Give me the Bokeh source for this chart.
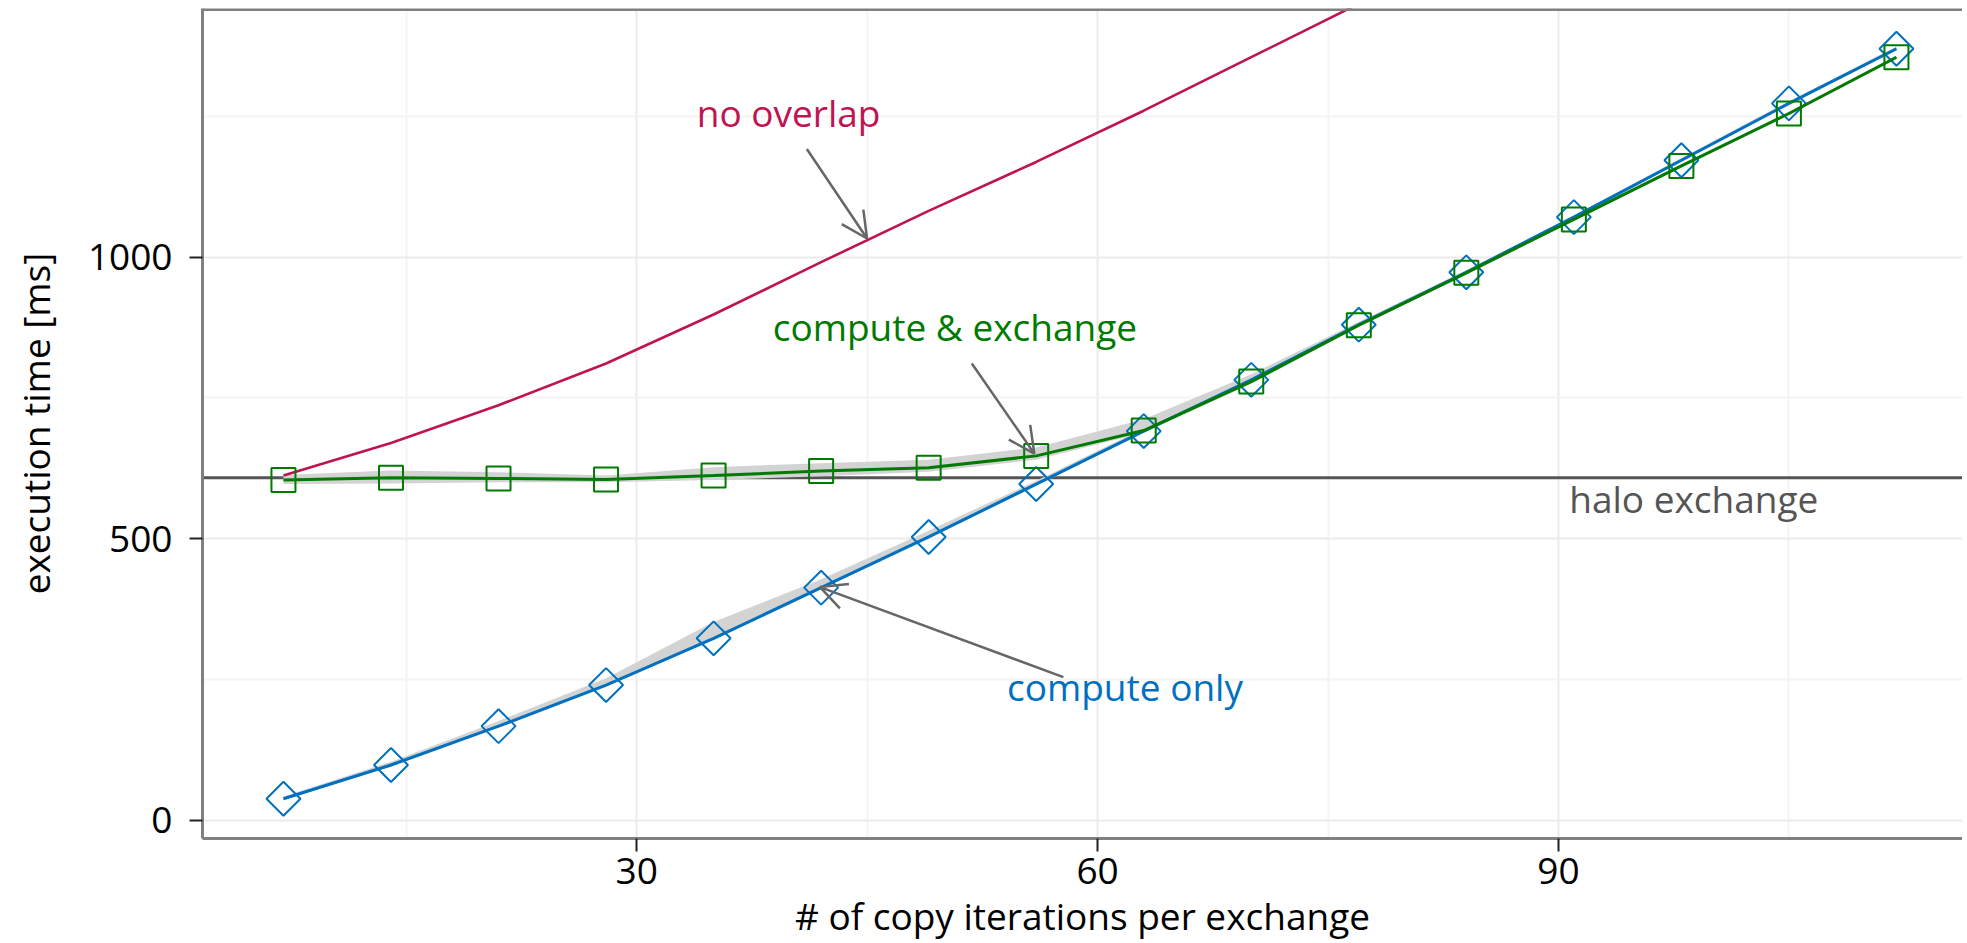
import math
from bokeh.plotting import figure
from bokeh.models import Range1d, FixedTicker, Span, Arrow, OpenHead
from bokeh.core.properties import value
from bokeh.embed import file_html
from bokeh.resources import INLINE

# ---------------- data ----------------
iterations = [7, 14, 21, 28, 35, 42, 49, 56, 63, 70, 77, 84, 91, 98, 105, 112]
compute_only = [38, 98, 167, 240, 323, 413, 503, 597, 691, 782, 880, 973, 1071, 1172, 1273, 1370]
compute_only_lo = [36, 95, 164, 237, 320, 410, 500, 594, 688, 779, 877, 970, 1068, 1169, 1270, 1367]
compute_only_hi = [42, 104, 176, 252, 352, 428, 514, 603, 696, 786, 884, 977, 1074, 1176, 1277, 1374]
compute_exchange = [604, 608, 607, 605, 612, 620, 626, 647, 692, 779, 879, 972, 1067, 1162, 1255, 1355]
compute_exchange_lo = [597, 598, 600, 600, 604, 611, 619, 640, 688, 775, 876, 969, 1064, 1159, 1252, 1352]
compute_exchange_hi = [613, 621, 618, 612, 627, 634, 640, 662, 712, 792, 885, 976, 1070, 1165, 1258, 1358]
no_overlap = [612, 670, 737, 811, 898, 991, 1082, 1169, 1260, 1355, 1450, 1548, 1648, 1750, 1850, 1950]
halo_exchange = 608

x_ticks = [30, 60, 90]
x_minor = [15, 45, 75, 105]
y_ticks = [0, 500, 1000]
y_minor = [250, 750, 1250]

FONT = "Open Sans"
FS = "37px"
C_BLUE = "#0070C0"
C_GREEN = "#007A00"
C_RED = "#BF1450"
C_GRAY = "#555555"
C_ARROW = "#666666"
C_AXIS = "#808080"

p = figure(width=1962, height=943, output_backend="svg", toolbar_location=None,
           x_range=Range1d(1.73, 116.3), y_range=Range1d(-32.5, 1441.5),
           min_border_left=202, min_border_right=0, min_border_top=8, min_border_bottom=105)
p.background_fill_color = "white"
p.border_fill_color = "white"
p.outline_line_color = None

# grid
p.xaxis.ticker = FixedTicker(ticks=x_ticks, minor_ticks=x_minor)
p.yaxis.ticker = FixedTicker(ticks=y_ticks, minor_ticks=y_minor)
for g in (p.xgrid, p.ygrid):
    g.grid_line_color = "#EBEBEB"
    g.grid_line_width = 2
    g.minor_grid_line_color = "#F4F4F4"
    g.minor_grid_line_width = 2

# axes
for ax in (p.xaxis, p.yaxis):
    ax.axis_line_color = C_AXIS
    ax.axis_line_width = 3
    ax.major_tick_out = 13
    ax.major_tick_in = 0
    ax.major_tick_line_color = "#222222"
    ax.major_tick_line_width = 2
    ax.minor_tick_out = 0
    ax.minor_tick_in = 0
    ax.major_label_text_font = FONT
    ax.major_label_text_font_size = FS
    ax.major_label_text_color = "black"
    ax.axis_label_text_font = FONT
    ax.axis_label_text_font_size = FS
    ax.axis_label_text_font_style = "normal"
    ax.axis_label_text_color = "black"
p.xaxis.major_label_standoff = 6
p.xaxis.axis_label = "# of copy iterations per exchange"
p.xaxis.axis_label_standoff = 3
p.yaxis.major_label_standoff = 17
p.yaxis.axis_label = "execution time [ms]"
p.yaxis.axis_label_standoff = 24

# top border
p.add_layout(Span(location=1439.7, dimension="width", line_color=C_AXIS, line_width=3))

# halo exchange reference line
p.add_layout(Span(location=halo_exchange, dimension="width", line_color=C_GRAY,
                  line_width=3, level="underlay"))

# ribbons
p.varea(x=iterations, y1=compute_only_lo, y2=compute_only_hi, fill_color="#D3D3D3")
p.varea(x=iterations, y1=compute_exchange_lo, y2=compute_exchange_hi, fill_color="#D3D3D3")

# lines + markers
p.line(iterations, no_overlap, line_color=C_RED, line_width=2.6)
p.line(iterations, compute_only, line_color=C_BLUE, line_width=3)
p.scatter(iterations, compute_only, marker="square", size=24, angle=math.pi / 4,
          fill_color=None, line_color=C_BLUE, line_width=2)
p.line(iterations, compute_exchange, line_color=C_GREEN, line_width=3)
p.scatter(iterations, compute_exchange, marker="square", size=24,
          fill_color=None, line_color=C_GREEN, line_width=2)

# annotation texts
p.text(x=[33.9], y=[1256], text=["no overlap"], text_color=C_RED,
       text_font=value(FONT), text_font_size=FS, text_baseline="alphabetic")
p.text(x=[38.85], y=[876], text=["compute & exchange"], text_color=C_GREEN,
       text_font=value(FONT), text_font_size=FS, text_baseline="alphabetic")
p.text(x=[54.1], y=[237], text=["compute only"], text_color=C_BLUE,
       text_font=value(FONT), text_font_size=FS, text_baseline="alphabetic")
p.text(x=[90.7], y=[572], text=["halo exchange"], text_color=C_GRAY,
       text_font=value(FONT), text_font_size=FS, text_baseline="alphabetic")

# arrows
for (x0, y0, x1, y1) in [(41.07, 1192, 44.99, 1033), (51.81, 811, 55.88, 651), (57.77, 254, 41.93, 414)]:
    p.add_layout(Arrow(x_start=x0, y_start=y0, x_end=x1, y_end=y1,
                       line_color=C_ARROW, line_width=2.5,
                       end=OpenHead(size=26, line_color=C_ARROW, line_width=2.5)))

open("out.html", "w").write(file_html(p, INLINE))
